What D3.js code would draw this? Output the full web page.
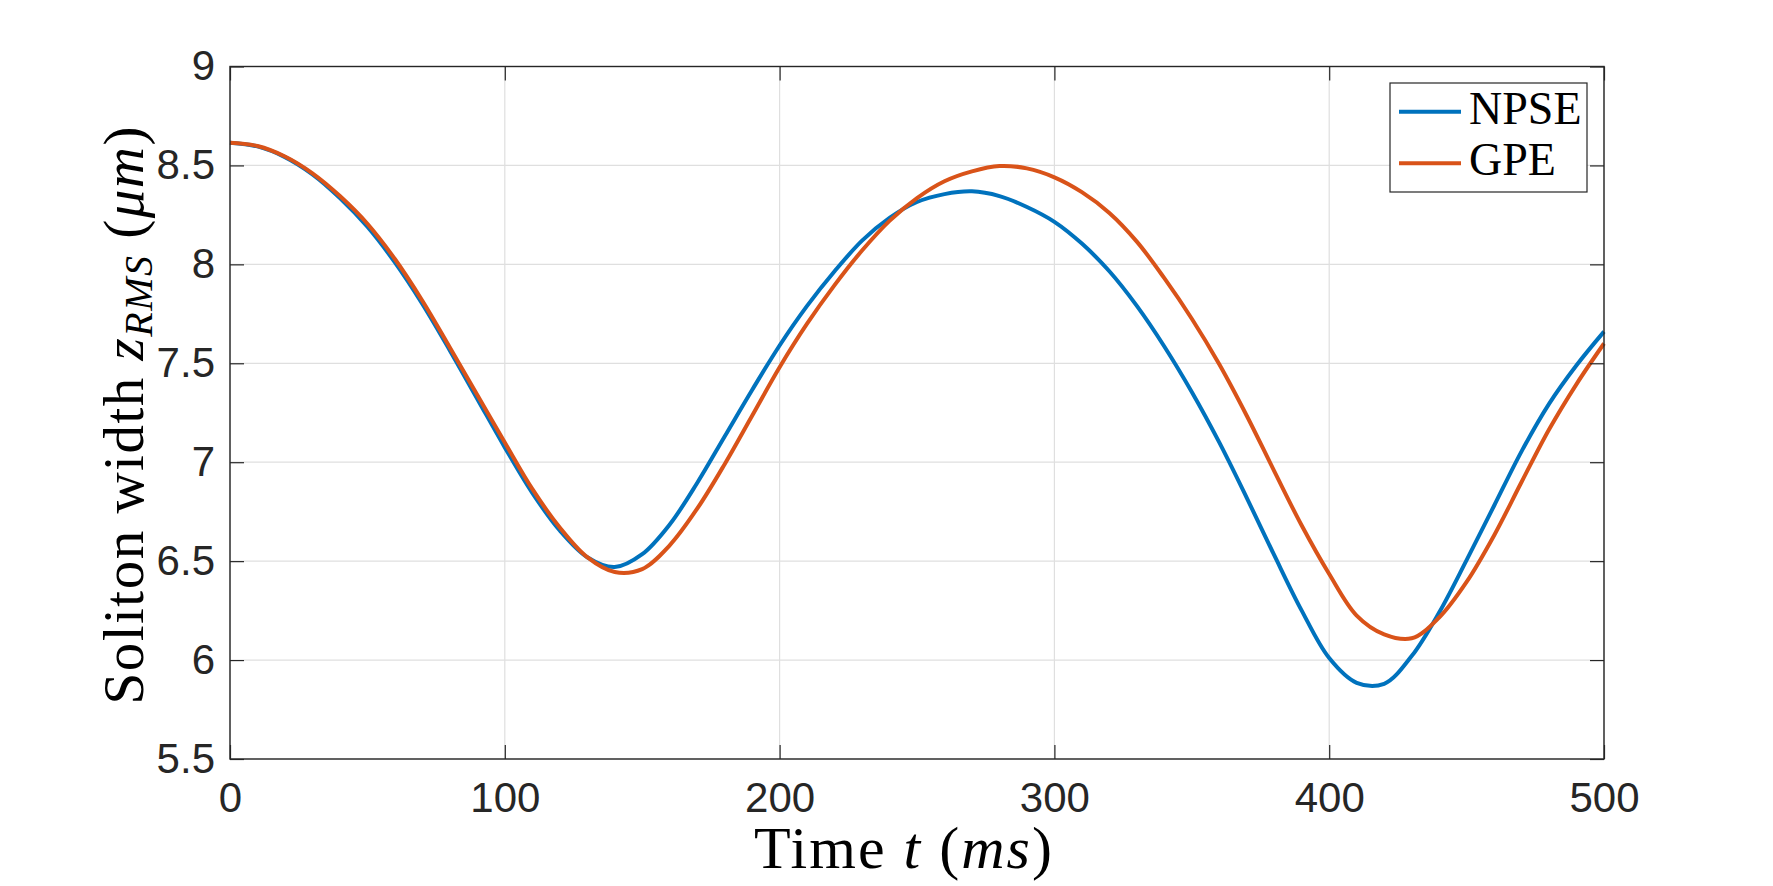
<html>
<head>
<meta charset="utf-8">
<script src="https://d3js.org/d3.v7.min.js"></script>
<style>
  body { margin: 0; background: #fff; }
  .tick text { font-family: "Liberation Sans", Arial, sans-serif; font-size: 42px; fill: #262626; }
  .tick line { stroke: #262626; stroke-width: 1.2px; }
  .domain { display: none; }
  .grid line { stroke: #dfdfdf; stroke-width: 1.2px; }
  .frame { fill: none; stroke: #262626; stroke-width: 1.4px; }
  .series { fill: none; stroke-width: 4px; stroke-linejoin: round; }
  .label { font-family: "Liberation Serif", "Times New Roman", serif; fill: #000; }
</style>
</head>
<body>
<script>
// time samples (ms)
var times = [0, 10, 20, 30, 40, 50, 60, 70, 80, 90,
             100, 110, 120, 130, 140, 150, 160, 170, 180, 190,
             200, 210, 220, 230, 240, 250, 260, 270, 280, 290,
             300, 310, 320, 330, 340, 350, 360, 370, 380, 390,
             400, 410, 420, 430, 440, 450, 460, 470, 480, 490, 500];

// soliton width z_RMS (um)
var npse = [8.615, 8.596, 8.542, 8.455, 8.335, 8.19, 8.01, 7.80, 7.565, 7.32,
            7.075, 6.845, 6.655, 6.52, 6.47, 6.535, 6.685, 6.895, 7.13, 7.365,
            7.59, 7.79, 7.965, 8.12, 8.235, 8.315, 8.355, 8.369, 8.345, 8.29,
            8.215, 8.105, 7.965, 7.79, 7.585, 7.355, 7.10, 6.82, 6.53, 6.25,
            6.01, 5.885, 5.88, 6.02, 6.24, 6.505, 6.78, 7.055, 7.295, 7.49, 7.66];

var gpe  = [8.615, 8.598, 8.545, 8.46, 8.345, 8.205, 8.027, 7.816, 7.58, 7.34,
            7.10, 6.865, 6.67, 6.52, 6.445, 6.46, 6.58, 6.765, 6.99, 7.235,
            7.48, 7.70, 7.895, 8.07, 8.22, 8.335, 8.42, 8.47, 8.497, 8.485,
            8.44, 8.365, 8.26, 8.115, 7.93, 7.725, 7.495, 7.235, 6.955, 6.68,
            6.435, 6.225, 6.13, 6.11, 6.215, 6.395, 6.63, 6.90, 7.165, 7.395, 7.60];

var xTicks = [0, 100, 200, 300, 400, 500];
var yTicks = [5.5, 6, 6.5, 7, 7.5, 8, 8.5, 9];

var seriesNames = ["NPSE", "GPE"];
var seriesColors = ["#0072BD", "#D95319"];

var W = 1773, H = 886;
var pL = 230, pR = 1604, pT = 66.5, pB = 759;

var svg = d3.select("body").append("svg")
    .attr("width", W)
    .attr("height", H);

svg.append("rect").attr("width", W).attr("height", H).attr("fill", "#fff");

var x = d3.scaleLinear().domain([0, 500]).range([pL, pR]);
var y = d3.scaleLinear().domain([5.5, 9]).range([pB, pT]);

// grid
var grid = svg.append("g").attr("class", "grid");
grid.selectAll(".gx").data(xTicks).enter().append("line")
    .attr("x1", function (d) { return x(d); })
    .attr("x2", function (d) { return x(d); })
    .attr("y1", pT).attr("y2", pB);
grid.selectAll(".gy").data(yTicks).enter().append("line")
    .attr("y1", function (d) { return y(d); })
    .attr("y2", function (d) { return y(d); })
    .attr("x1", pL).attr("x2", pR);

// lines
var line = d3.line()
    .x(function (d) { return x(d[0]); })
    .y(function (d) { return y(d[1]); })
    .curve(d3.curveCatmullRom.alpha(0.5));

[npse, gpe].forEach(function (vals, i) {
    svg.append("path")
        .datum(times.map(function (t, j) { return [t, vals[j]]; }))
        .attr("class", "series")
        .attr("stroke", seriesColors[i])
        .attr("d", line);
});

// axes (ticks pointing inward, box on)
svg.append("g")
    .attr("transform", "translate(0," + pB + ")")
    .call(d3.axisBottom(x).tickValues(xTicks).tickSizeInner(-14).tickSizeOuter(0).tickPadding(23)
        .tickFormat(d3.format("d")));
svg.append("g")
    .attr("transform", "translate(0," + pT + ")")
    .call(d3.axisTop(x).tickValues(xTicks).tickSizeInner(-14).tickSizeOuter(0).tickFormat(""));
svg.append("g")
    .attr("transform", "translate(" + pL + ",0)")
    .call(d3.axisLeft(y).tickValues(yTicks).tickSizeInner(-14).tickSizeOuter(0).tickPadding(15)
        .tickFormat(function (d) { return String(d); }));
svg.append("g")
    .attr("transform", "translate(" + pR + ",0)")
    .call(d3.axisRight(y).tickValues(yTicks).tickSizeInner(-14).tickSizeOuter(0).tickFormat(""));

svg.append("rect").attr("class", "frame")
    .attr("x", pL).attr("y", pT)
    .attr("width", pR - pL).attr("height", pB - pT);

// axis labels
var xl = svg.append("text").attr("class", "label")
    .attr("x", 904).attr("y", 868)
    .attr("text-anchor", "middle")
    .style("font-size", "60px").style("letter-spacing", "2px");
xl.append("tspan").text("Time ");
xl.append("tspan").style("font-style", "italic").text("t");
xl.append("tspan").text(" (");
xl.append("tspan").style("font-style", "italic").text("ms");
xl.append("tspan").text(")");

var yl = svg.append("text").attr("class", "label")
    .attr("transform", "translate(143," + ((pT + pB) / 2 + 2) + ") rotate(-90)")
    .attr("text-anchor", "middle")
    .style("font-size", "57px").style("letter-spacing", "1.5px");
yl.append("tspan").text("Soliton width ");
yl.append("tspan").style("font-style", "italic").text("z");
yl.append("tspan").style("font-style", "italic").style("font-size", "40px").attr("dy", 9).text("RMS");
yl.append("tspan").attr("dy", -9).text(" (");
yl.append("tspan").style("font-style", "italic").text("\u03bcm");
yl.append("tspan").text(")");

// legend
var lg = svg.append("g");
lg.append("rect")
    .attr("x", 1390).attr("y", 83).attr("width", 197).attr("height", 109)
    .attr("fill", "#fff").attr("stroke", "#262626").attr("stroke-width", 1.2);
seriesNames.forEach(function (name, i) {
    var ly = 111.7 + i * 51.6;
    lg.append("line")
        .attr("x1", 1399).attr("x2", 1461)
        .attr("y1", ly).attr("y2", ly)
        .attr("stroke", seriesColors[i]).attr("stroke-width", 4);
    lg.append("text").attr("class", "label")
        .attr("x", 1469).attr("y", ly + 12)
        .style("font-size", "46px")
        .text(name);
});
</script>
</body>
</html>
